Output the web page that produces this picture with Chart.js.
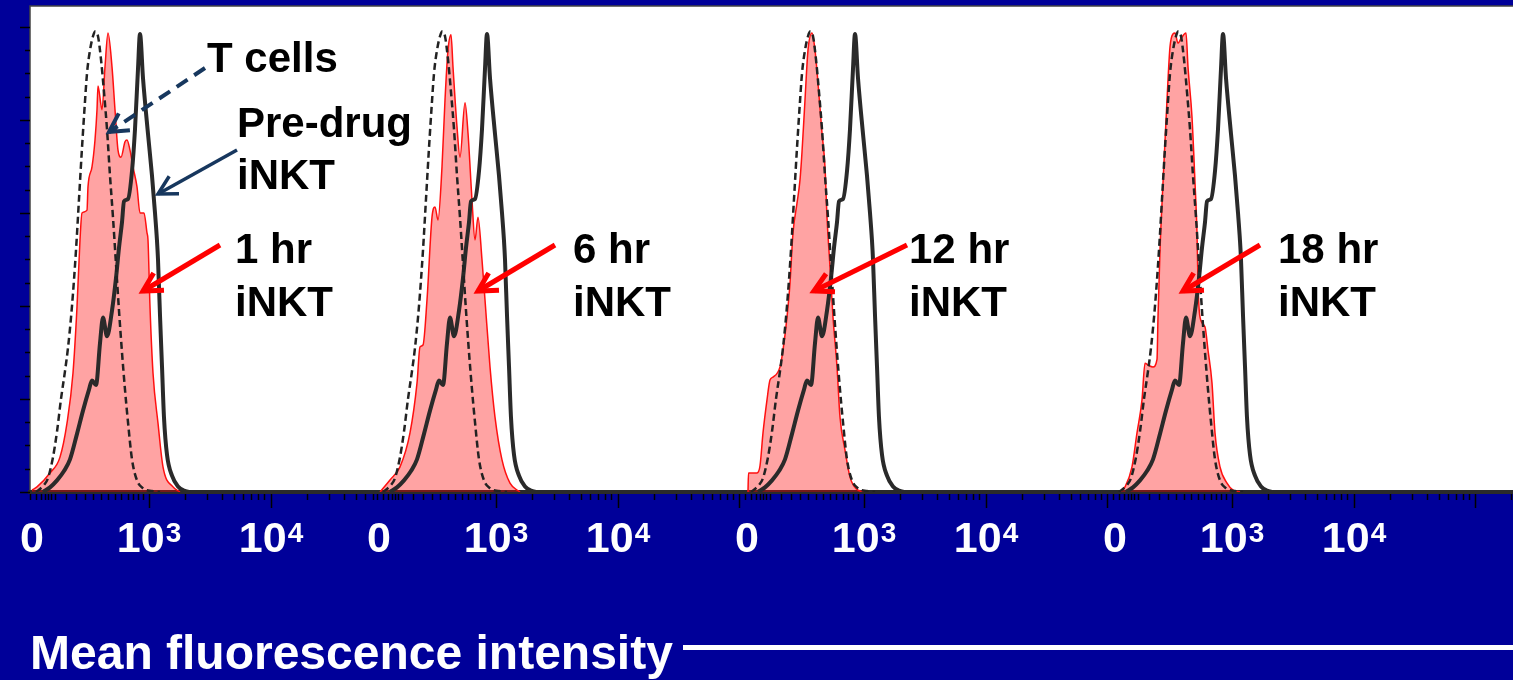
<!DOCTYPE html>
<html>
<head>
<meta charset="utf-8">
<script src="https://cdn.jsdelivr.net/npm/chart.js@4"></script>
<style>
  html, body { margin: 0; padding: 0; background: #000099; overflow: hidden; }
  canvas { display: block; }
</style>
</head>
<body>
<canvas id="grafico" width="1513" height="680"></canvas>
<script>
// histogram curves, [channel, % of max] - channel is position inside a panel
const tCells = [[4,0],[12,1.5],[16,3],[21,7.5],[25,13],[29,20],[33,26],[36,31],[40,40],[44,52],[47,63],[50,74],[53,84],[55,90],[58,95],[61,98],[63,99],[66,98],[69,93],[72,86],[75,78],[78,68],[81,59],[84,49],[87,39],[90,30],[93,22],[96,15],[100,7],[105,2.5],[111,0.8],[120,0.2],[128,0]];
const preDrug = [[11,0],[18,1],[25,2.5],[32,4.5],[38,7],[45,12.5],[51,17.5],[57,22],[60,24],[64,23],[68,32],[71,37.5],[75,33.5],[80,39],[84,46],[87,52.5],[90,58],[92,62.5],[96,63],[100,69],[103,78],[106,91],[108,98.5],[111,89],[116,77],[120,68],[123,60],[125,54],[126,50],[128,38],[130,27],[132,16],[135,8],[140,3.5],[146,1.2],[152,0.3],[158,0]];
const hr1 = [[0,0.4],[5,1.1],[18,4.1],[28,7.5],[35,14.8],[41,25.6],[45,39.8],[48,54.2],[50,60],[55,60.6],[56,65.6],[60,69.9],[63,75.7],[65,82.2],[66,87.3],[70,82.2],[73,91.4],[76,98.7],[80,91.4],[83,82.2],[86,73.5],[89,72],[93,75.3],[95,75.7],[98,73.5],[101,69.9],[105,65.6],[108,60],[112,60],[115,55.7],[116,54.2],[118,39.8],[121,25.6],[126,14.8],[131,5.4],[141,1.1],[148,0]];
const hr6 = [[1,0],[11,2.6],[21,5.4],[31,12.7],[38,23.4],[41,31.2],[44,31.6],[48,41.3],[53,59.1],[56,61.3],[59,58.5],[63,69.9],[66,84.3],[69,95],[72,98.3],[74,91.4],[78,78.5],[81,72],[86,83.7],[89,77.2],[93,62.8],[96,54.2],[99,59.1],[103,49.9],[106,41.3],[111,26.9],[116,16.1],[123,6.9],[131,1.9],[141,0]];
const hr12 = [[1,0],[1.5,4.1],[10,4.1],[13,5.6],[16,12.7],[20,19.8],[23,24.1],[26,24.7],[33,26.9],[36,30.5],[40,37.6],[43,44.9],[46,55.7],[50,62.1],[53,67.1],[55,73.1],[58,84.3],[61,95],[65,98.7],[68,95],[71,87.9],[75,77.2],[78,69.9],[80,59.1],[83,48.4],[86,37.6],[90,26.9],[93,16.1],[98,9],[103,3.2],[111,0.4],[120,0]];
const hr18 = [[5,0],[10,1.1],[17,5.4],[22,12.7],[27,19.8],[30,27.7],[33,27.3],[38,26.9],[42,28.5],[43,37.6],[45,52],[48,66.5],[52,84.3],[55,95.7],[58,98.5],[60,98.7],[63,96.5],[66,97.5],[71,98.7],[73,91.4],[77,80.6],[80,66.5],[82,55.7],[83,44.9],[85,37.6],[90,35.5],[93,30.5],[97,23.4],[100,12.7],[105,5.4],[112,1.9],[118,0.4],[125,0]];

const postDrug = [hr1, hr6, hr12, hr18];
const timeLabels = ['1 hr', '6 hr', '12 hr', '18 hr'];

// axis
const xTickBase = ['0', '10', '10'];
const xTickExp = ['', '3', '4'];
const xLabelPos = [0, 117, 239];
const xMajorTicks = [117, 239, 360];
const xLowTicks = [-2, 4, 9, 13, 16, 19, 23, 34, 44, 53, 61, 69, 76, 83, 89, 96, 101, 106, 111];
const decadeWidth = 121;

// layout of the four panels along the shared axis
const panelOffsets = [2, 349, 717, 1085];
const axisMax = 1483;

const fontFam = '"Liberation Sans", Arial, sans-serif';
Chart.defaults.font.family = fontFam;

function toPoints(curve, off) {
  return curve.map(p => ({ x: off + p[0], y: p[1] }));
}

const datasets = [];
panelOffsets.forEach((off, i) => {
  datasets.push({
    label: 'T cells',
    data: toPoints(tCells, off),
    borderColor: '#222',
    borderWidth: 2.5,
    borderDash: [7, 4],
    pointRadius: 0,
    cubicInterpolationMode: 'monotone',
    fill: false,
    order: 1
  });
  datasets.push({
    label: 'Pre-drug iNKT',
    data: toPoints(preDrug, off),
    borderColor: '#2a2a2a',
    borderWidth: 4,
    pointRadius: 0,
    cubicInterpolationMode: 'monotone',
    fill: false,
    order: 2
  });
  datasets.push({
    label: timeLabels[i] + ' iNKT',
    data: toPoints(postDrug[i], off),
    borderColor: '#ff1010',
    borderWidth: 1.5,
    backgroundColor: 'rgba(255,0,0,0.36)',
    pointRadius: 0,
    cubicInterpolationMode: 'monotone',
    fill: 'origin',
    order: 3
  });
});

function drawArrow(ctx, x1, y1, x2, y2, color, width, dash) {
  ctx.save();
  ctx.strokeStyle = color;
  ctx.lineWidth = width;
  ctx.lineJoin = 'miter';
  ctx.setLineDash(dash || []);
  ctx.beginPath();
  ctx.moveTo(x1, y1);
  ctx.lineTo(x2, y2);
  ctx.stroke();
  ctx.setLineDash([]);
  const a = Math.atan2(y1 - y2, x1 - x2);
  const L = 21, s = 0.5;
  ctx.beginPath();
  ctx.moveTo(x2 + L * Math.cos(a - s), y2 + L * Math.sin(a - s));
  ctx.lineTo(x2, y2);
  ctx.lineTo(x2 + L * Math.cos(a + s), y2 + L * Math.sin(a + s));
  ctx.stroke();
  ctx.restore();
}

const fondoBlanco = {
  id: 'fondoBlanco',
  beforeDraw(chart) {
    const { ctx, chartArea: a } = chart;
    ctx.save();
    ctx.fillStyle = '#fff';
    ctx.fillRect(a.left, a.top, a.right - a.left, a.bottom - a.top);
    ctx.strokeStyle = '#444';
    ctx.lineWidth = 1.5;
    ctx.beginPath();
    ctx.moveTo(a.left, a.bottom);
    ctx.lineTo(a.left, a.top);
    ctx.lineTo(a.right, a.top);
    ctx.stroke();
    ctx.restore();
  }
};

const extras = {
  id: 'extras',
  afterDraw(chart) {
    const { ctx, chartArea: a } = chart;
    const xs = chart.scales.x, ys = chart.scales.y;
    ctx.save();
    ctx.strokeStyle = '#000';
    ctx.lineWidth = 1.5;

    // y ticks on the left edge
    for (let v = 0; v <= 100; v += 5) {
      const y = Math.round(ys.getPixelForValue(v)) + 0.5;
      const len = v % 20 === 0 ? 10 : 5;
      ctx.beginPath();
      ctx.moveTo(a.left - len, y);
      ctx.lineTo(a.left, y);
      ctx.stroke();
    }

    // x ticks under every panel
    panelOffsets.forEach((off, i) => {
      const end = i < panelOffsets.length - 1 ? panelOffsets[i + 1] - off - 3 : axisMax - off;
      const minors = xLowTicks.slice();
      xMajorTicks.forEach(m => {
        for (let k = 2; k <= 9; k++) minors.push(m + decadeWidth * Math.log10(k));
      });
      const tick = (c, len) => {
        if (c > end) return;
        const x = Math.round(xs.getPixelForValue(off + c)) + 0.5;
        ctx.beginPath();
        ctx.moveTo(x, a.bottom + 2);
        ctx.lineTo(x, a.bottom + 2 + len);
        ctx.stroke();
      };
      minors.forEach(c => tick(c, 6));
      xMajorTicks.forEach(c => tick(c, 14));
    });

    // tick labels with raised exponents, centred on the axis ticks
    ctx.fillStyle = '#fff';
    ctx.textAlign = 'left';
    ctx.textBaseline = 'alphabetic';
    xs.ticks.forEach((t, i) => {
      const base = xTickBase[i % 3], exp = xTickExp[i % 3];
      ctx.font = 'bold 43px ' + fontFam;
      const wb = ctx.measureText(base).width;
      ctx.font = 'bold 28px ' + fontFam;
      const we = exp ? ctx.measureText(exp).width + 1 : 0;
      const x0 = xs.getPixelForValue(t.value) - (wb + we) / 2;
      ctx.font = 'bold 43px ' + fontFam;
      ctx.fillText(base, x0, 552);
      if (exp) {
        ctx.font = 'bold 28px ' + fontFam;
        ctx.fillText(exp, x0 + wb + 1, 542);
      }
    });

    // annotations
    const navy = '#17375e';
    drawArrow(ctx, 205, 68, 109, 132, navy, 4, [13, 8]);
    drawArrow(ctx, 237, 150, 158, 194, navy, 3.5);
    drawArrow(ctx, 220, 245, 143, 291, '#ff0000', 5);
    drawArrow(ctx, 555, 245, 478, 291, '#ff0000', 5);
    drawArrow(ctx, 907, 245, 814, 291, '#ff0000', 5);
    drawArrow(ctx, 1260, 245, 1183, 291, '#ff0000', 5);

    ctx.fillStyle = '#000';
    ctx.font = 'bold 42px ' + fontFam;
    ctx.fillText('T cells', 207, 72);
    ctx.fillText('Pre-drug', 237, 137);
    ctx.fillText('iNKT', 237, 189);
    const txtX = [235, 573, 909, 1278];
    txtX.forEach((x, i) => {
      ctx.fillText(timeLabels[i], x, 263);
      ctx.fillText('iNKT', x, 316);
    });

    // white rule after the axis title
    ctx.fillStyle = '#fff';
    ctx.fillRect(683, 645, 1513 - 683, 5);
    ctx.restore();
  }
};

new Chart(document.getElementById('grafico').getContext('2d'), {
  type: 'line',
  data: { datasets: datasets },
  options: {
    responsive: false,
    animation: false,
    devicePixelRatio: 1,
    layout: { padding: { left: 30, top: 6, right: 0, bottom: 0 } },
    plugins: { legend: { display: false }, tooltip: { enabled: false } },
    scales: {
      x: {
        type: 'linear',
        min: 0,
        max: axisMax,
        afterBuildTicks: scale => {
          scale.ticks = panelOffsets.flatMap(o => xLabelPos.map(p => ({ value: o + p })));
        },
        afterFit: scale => { scale.height = 188; },
        grid: { display: false, drawTicks: false },
        border: { display: true, color: '#2a2a2a', width: 4 },
        ticks: { display: false },
        title: {
          display: true,
          text: 'Mean fluorescence intensity',
          align: 'start',
          color: '#fff',
          font: { size: 48, weight: 'bold', lineHeight: 1 },
          padding: 0
        }
      },
      y: { display: false, min: 0, max: 104.5 }
    }
  },
  plugins: [fondoBlanco, extras]
});
</script>
</body>
</html>
